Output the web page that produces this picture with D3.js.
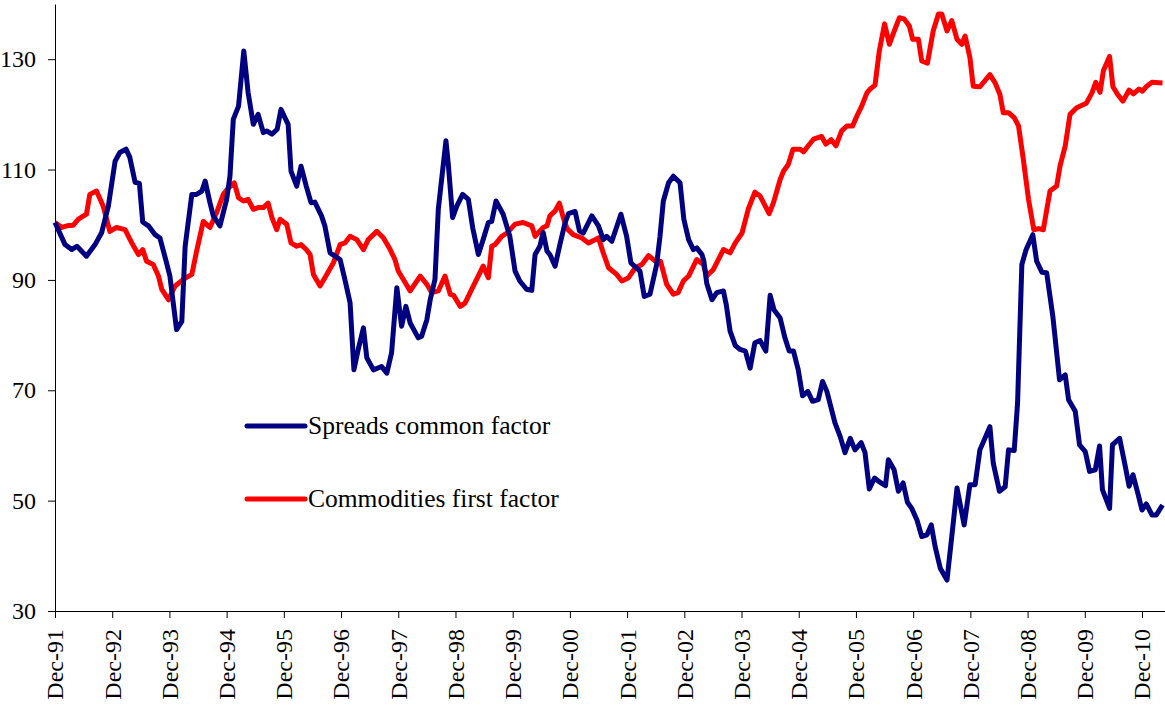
<!DOCTYPE html>
<html lang="en">
<head>
    <meta charset="UTF-8">
    <title>Spreads and commodities factors</title>
</head>
<body style="margin:0; background:#fff;">

<style>
    .axis text {
        font-family: "Times New Roman", "Liberation Serif", serif;
        font-size: 24px;
        fill: #000;
    }
    .axis path, .axis line {
        stroke: #000;
    }
    .legend text {
        font-family: "Times New Roman", "Liberation Serif", serif;
        font-size: 25.5px;
    }
</style>

<script src="https://d3js.org/d3.v7.min.js"></script>
<script>
    // months after Dec-91 and index values
    var tickLabels = ["Dec-91", "Dec-92", "Dec-93", "Dec-94", "Dec-95", "Dec-96", "Dec-97", "Dec-98", "Dec-99", "Dec-00",
        "Dec-01", "Dec-02", "Dec-03", "Dec-04", "Dec-05", "Dec-06", "Dec-07", "Dec-08", "Dec-09", "Dec-10"];
    var yTicks = [30, 50, 70, 90, 110, 130];

    var spreadMonth = [0, 2.1, 3.5, 4.6, 6.6, 8.4, 9.8, 11.2, 12.6, 13.6, 14.9, 15.7, 16.8, 17.7, 18.4, 19.6, 21.0, 22.0, 23.4, 24.1,
        25.5, 26.6, 27.3, 28.7, 29.7, 30.8, 31.5, 32.5, 33.2, 34.6, 36.0, 36.7, 37.4, 38.5, 39.6, 40.5, 41.6, 42.6, 43.7, 44.4,
        45.5, 46.6, 47.4, 48.9, 49.5, 50.7, 51.6, 52.7, 53.7, 54.5, 55.9, 56.6, 57.7, 59.8, 60.8, 61.9, 62.7, 63.6, 64.7, 65.4,
        66.8, 68.5, 69.6, 70.6, 71.7, 72.7, 73.6, 74.5, 76.2, 76.9, 78.0, 78.7, 79.7, 80.4, 82.0, 82.5, 83.4, 84.3, 85.5, 86.7,
        87.6, 88.8, 89.8, 90.9, 91.6, 92.5, 94.0, 95.4, 96.5, 97.5, 98.9, 100.0, 100.7, 101.7, 102.4, 103.2, 103.8, 104.9, 105.9, 107.0,
        107.7, 109.1, 110.0, 110.8, 112.6, 114.0, 115.0, 115.7, 116.8, 118.7, 119.9, 120.8, 122.7, 123.6, 124.8, 126.2, 126.9, 127.6, 128.7, 129.7,
        131.1, 131.9, 132.9, 133.9, 134.6, 135.7, 136.1, 136.7, 137.8, 138.8, 140.2, 140.8, 141.6, 142.7, 143.7, 144.8, 145.8, 146.8, 147.9, 149.1,
        150.0, 150.8, 152.1, 153.1, 154.0, 154.9, 155.9, 156.8, 157.9, 158.9, 160.1, 161.0, 161.9, 163.6, 164.7, 165.7, 166.8, 167.8, 169.1, 169.9,
        170.8, 171.9, 173.1, 174.2, 174.8, 176.0, 176.9, 177.9, 178.8, 179.7, 180.8, 181.8, 182.9, 183.8, 184.6, 185.7, 187.1, 188.1, 189.2, 190.7,
        191.9, 193.0, 194.0, 196.1, 196.8, 198.1, 199.3, 200.0, 201.2, 201.9, 202.8, 203.7, 205.1, 205.9, 207.0, 208.0, 209.3, 210.7, 211.9, 212.6,
        214.0, 214.9, 216.1, 217.0, 218.2, 219.1, 219.7, 221.2, 221.8, 223.3, 224.5, 225.3, 226.1, 227.2, 228.0, 228.9, 230.1, 231.0, 232.3];
    var spreadValue = [100.4, 96.4, 95.5, 96.1, 94.3, 96.4, 98.6, 103.4, 111.5, 113.1, 113.7, 112.2, 107.7, 107.5, 100.5, 99.8, 98.2, 97.6, 93.1, 90.7,
        81.0, 82.5, 96.1, 105.5, 105.5, 106.1, 107.9, 104.0, 101.6, 99.8, 104.6, 108.8, 119.1, 121.5, 131.5, 124.0, 118.2, 120.0, 116.7, 117.0,
        116.4, 117.3, 120.9, 118.2, 109.7, 107.0, 110.6, 107.0, 104.0, 104.1, 101.6, 99.8, 94.9, 93.7, 90.1, 85.8, 73.7, 77.4, 81.3, 75.9,
        73.7, 74.3, 73.1, 76.8, 88.6, 81.6, 85.2, 82.2, 79.5, 79.8, 82.8, 86.4, 90.1, 102.8, 115.2, 110.9, 101.3, 103.4, 105.5, 104.6,
        99.5, 94.6, 97.3, 100.4, 100.6, 104.3, 101.9, 97.9, 91.6, 89.8, 88.3, 88.1, 94.6, 96.1, 98.6, 95.2, 94.6, 92.5, 96.4, 100.4,
        102.0, 102.4, 98.9, 98.5, 101.6, 99.8, 97.3, 97.9, 97.0, 101.9, 97.9, 93.1, 91.6, 87.0, 87.4, 92.8, 97.9, 104.3, 107.6, 108.8,
        107.6, 101.0, 97.3, 95.5, 95.8, 94.6, 93.4, 89.4, 86.4, 87.7, 88.0, 85.5, 80.7, 78.1, 77.4, 77.1, 74.0, 78.6, 79.0, 77.1,
        87.2, 84.6, 83.1, 79.5, 77.1, 77.1, 73.7, 69.0, 69.8, 68.0, 68.3, 71.6, 69.8, 64.1, 61.6, 58.7, 61.3, 59.2, 60.5, 58.7,
        52.1, 54.1, 53.3, 52.7, 57.4, 55.6, 51.7, 53.2, 49.7, 48.6, 46.5, 43.5, 43.8, 45.6, 41.7, 37.7, 35.6, 43.5, 52.3, 45.6,
        52.9, 52.9, 59.2, 63.4, 56.8, 51.7, 52.5, 59.2, 59.1, 67.7, 92.8, 95.5, 98.2, 93.4, 91.4, 91.3, 83.4, 71.9, 72.8, 68.3,
        66.2, 60.1, 58.9, 55.3, 55.6, 59.9, 52.0, 48.6, 60.1, 61.3, 56.2, 52.6, 54.7, 51.1, 48.3, 49.4, 47.4, 47.4, 49.2];

    var commodMonth = [0, 1.4, 2.5, 3.8, 4.9, 6.6, 7.3, 8.7, 10.1, 11.5, 12.9, 14.7, 16.1, 17.5, 18.4, 19.2, 20.6, 21.7, 22.4, 23.8,
        25.2, 26.9, 28.7, 29.7, 31.1, 32.5, 33.9, 35.3, 36.4, 37.6, 38.5, 39.5, 40.5, 41.6, 42.6, 43.7, 44.7, 45.5, 46.5, 47.2,
        48.6, 49.5, 50.7, 51.6, 52.7, 53.5, 54.2, 55.6, 57.0, 58.4, 59.8, 60.8, 61.9, 63.3, 64.7, 65.7, 67.5, 68.9, 70.3, 71.3,
        72.0, 74.5, 76.6, 78.0, 79.0, 80.4, 81.8, 82.9, 83.6, 85.0, 86.0, 87.4, 89.8, 90.9, 91.6, 92.3, 93.7, 94.8, 96.5, 98.2,
        100.0, 100.7, 102.4, 103.2, 103.8, 104.9, 105.8, 106.6, 107.4, 108.7, 110.5, 111.9, 114.0, 115.0, 116.1, 117.8, 118.9, 120.3, 121.7, 123.1,
        124.5, 125.9, 127.0, 128.3, 129.7, 130.7, 131.8, 132.9, 134.6, 136.0, 136.7, 138.1, 140.2, 141.6, 142.7, 144.1, 145.4, 146.8, 147.9, 149.8,
        150.7, 152.1, 152.8, 153.8, 154.8, 156.3, 157.0, 158.0, 159.1, 160.8, 161.7, 162.8, 163.8, 165.0, 166.1, 167.3, 168.2, 169.2, 170.3, 171.0,
        172.0, 172.9, 174.0, 175.0, 175.9, 177.1, 178.1, 179.2, 179.9, 181.1, 181.8, 183.0, 184.2, 185.3, 186.0, 187.1, 188.1, 189.2, 190.2, 190.9,
        191.9, 192.6, 194.0, 196.1, 197.2, 198.2, 198.9, 200.0, 201.2, 202.1, 203.1, 204.2, 205.3, 206.3, 207.3, 208.7, 210.1, 210.8, 211.9, 212.9,
        214.3, 216.3, 217.5, 218.3, 219.2, 219.9, 221.2, 221.9, 222.9, 224.0, 225.3, 226.2, 227.4, 228.1, 229.0, 230.1, 232.3];
    var commodValue = [100.4, 99.5, 99.8, 99.9, 101.0, 101.9, 105.5, 106.1, 103.4, 98.8, 99.5, 99.1, 96.7, 94.6, 95.5, 93.4, 92.8, 90.7, 88.3, 86.4,
        88.9, 90.1, 91.0, 95.2, 100.6, 99.5, 102.2, 105.5, 106.7, 107.6, 104.9, 104.3, 104.6, 102.8, 103.1, 103.1, 103.9, 101.3, 99.1, 101.0,
        100.1, 96.7, 96.1, 96.4, 95.5, 94.6, 91.0, 88.9, 91.0, 93.1, 96.4, 96.7, 97.9, 97.3, 95.5, 97.3, 98.8, 97.6, 95.5, 93.7,
        91.6, 88.0, 90.7, 89.2, 87.7, 88.0, 90.7, 87.4, 87.2, 85.2, 85.8, 88.3, 92.5, 90.4, 96.1, 96.4, 97.9, 98.5, 100.1, 100.4,
        99.8, 97.9, 99.5, 99.8, 101.6, 102.5, 103.9, 101.3, 99.3, 98.2, 97.6, 96.7, 97.6, 94.9, 92.2, 91.0, 89.8, 90.4, 92.2, 92.8,
        94.4, 93.4, 93.4, 89.2, 87.4, 87.7, 89.8, 90.7, 93.7, 92.8, 90.7, 91.9, 95.5, 94.9, 96.7, 98.5, 102.8, 105.9, 105.2, 102.0,
        104.0, 108.2, 109.7, 110.9, 113.7, 113.7, 113.2, 114.3, 115.5, 116.0, 114.6, 115.4, 114.3, 117.0, 117.9, 117.9, 119.7, 121.5, 123.9, 124.6,
        125.3, 131.5, 136.4, 132.7, 134.8, 137.5, 137.3, 136.0, 133.6, 133.6, 129.7, 129.3, 135.1, 138.2, 138.2, 135.1, 137.0, 133.6, 132.7, 134.2,
        130.3, 125.1, 125.0, 127.2, 125.7, 123.6, 120.3, 120.3, 119.4, 117.9, 111.9, 104.6, 99.1, 99.3, 99.1, 106.1, 107.0, 110.6, 114.3, 120.0,
        121.2, 122.0, 123.9, 125.8, 124.0, 127.9, 130.5, 125.0, 123.6, 122.4, 124.4, 123.7, 124.6, 124.2, 125.1, 125.8, 125.7];

    var width = 1165, height = 707;

    var svg = d3.select("body")
        .append("svg")
        .attr("width", width)
        .attr("height", height);

    var x = d3.scaleLinear().domain([0, 233]).range([55, 55 + 233 * 1087 / 228]),
        y = d3.scaleLinear().domain([30, 140]).range([611, 4]);

    var line = d3.line()
        .x(function(d) { return x(d[0]); })
        .y(function(d) { return y(d[1]); });

    // axes
    svg.append("g")
        .attr("class", "axis axis--y")
        .attr("transform", "translate(55,0)")
        .call(d3.axisLeft(y).tickValues(yTicks).tickSize(7).tickSizeOuter(0).tickPadding(12));

    svg.append("g")
        .attr("class", "axis axis--x")
        .attr("transform", "translate(0,611)")
        .call(d3.axisBottom(x)
            .tickValues(d3.range(tickLabels.length).map(function(i) { return i * 12; }))
            .tickFormat(function(d, i) { return tickLabels[i]; })
            .tickSize(7).tickSizeOuter(0))
        .selectAll("text")
        .attr("transform", "rotate(-90)")
        .attr("x", -18)
        .attr("y", 0)
        .attr("dy", "0.33em")
        .style("text-anchor", "end");

    var spreads = spreadMonth.map(function(m, i) { return [m, spreadValue[i]]; });
    var commods = commodMonth.map(function(m, i) { return [m, commodValue[i]]; });

    svg.append("path")
        .datum(commods)
        .attr("fill", "none")
        .attr("stroke", "#ff0000")
        .attr("stroke-width", 5)
        .attr("stroke-linejoin", "round")
        .attr("d", line);

    svg.append("path")
        .datum(spreads)
        .attr("fill", "none")
        .attr("stroke", "#000080")
        .attr("stroke-width", 5)
        .attr("stroke-linejoin", "round")
        .attr("d", line);

    // legend
    var legend = svg.append("g").attr("class", "legend");
    var items = [
        {name: "Spreads common factor", color: "#000080", y: 426},
        {name: "Commodities first factor", color: "#ff0000", y: 499}
    ];
    items.forEach(function(it) {
        legend.append("line")
            .attr("x1", 247).attr("x2", 305)
            .attr("y1", it.y).attr("y2", it.y)
            .attr("stroke", it.color)
            .attr("stroke-width", 5)
            .attr("stroke-linecap", "round");
        legend.append("text")
            .attr("x", 308)
            .attr("y", it.y)
            .attr("dy", "0.33em")
            .text(it.name);
    });
</script>
</body>
</html>
